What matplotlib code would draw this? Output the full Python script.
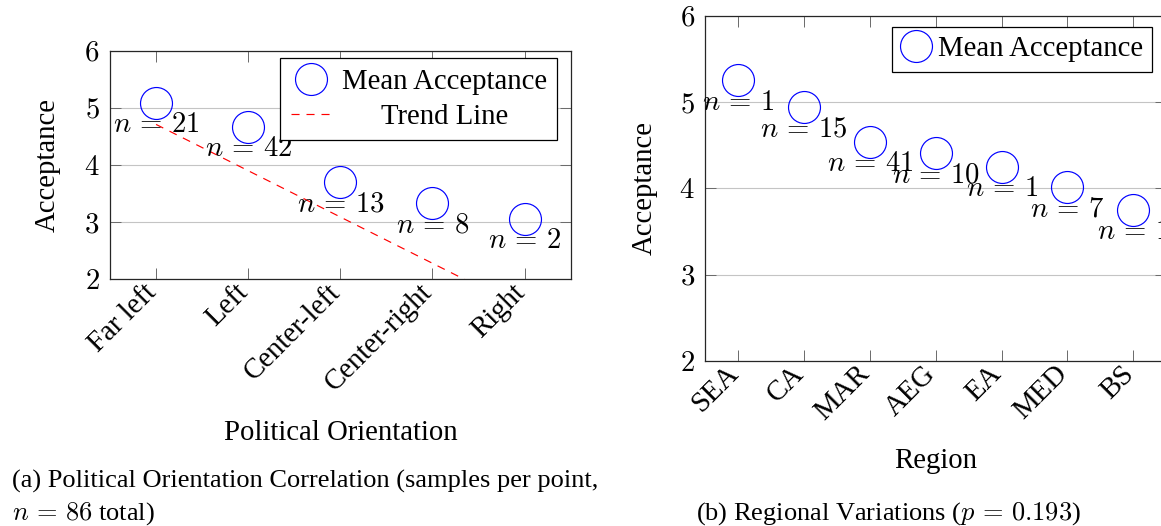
import matplotlib
matplotlib.use("Agg")
import matplotlib.pyplot as plt
from matplotlib.lines import Line2D
from matplotlib.transforms import ScaledTranslation

# ---------------- data ----------------
political_categories = ["Far left", "Left", "Center-left", "Center-right", "Right"]
political_means = [5.08, 4.66, 3.70, 3.33, 3.06]
political_n = [21, 42, 13, 8, 2]
trend_categories = ["Far left", "Right"]
trend_values = [4.71, 1.47]

region_categories = ["SEA", "CA", "MAR", "AEG", "EA", "MED", "BS"]
region_means = [5.25, 4.94, 4.54, 4.41, 4.25, 4.01, 3.75]
region_n = [1, 15, 41, 10, 1, 7, 1]

y_ticks = [2, 3, 4, 5, 6]

# ---------------- style ----------------
plt.rcParams["font.family"] = ["Liberation Serif", "DejaVu Serif"]
plt.rcParams["mathtext.fontset"] = "cm"
plt.rcParams["lines.scale_dashes"] = False
FS = 20.7
FS_CAP = 19.0
W, H = 1161, 526
SPINE = "#262626"
GRID = "#c4c4c4"
TICK = "#6a6a6a"
BLUE = "#0000ff"
RED = "#ff0000"

fig = plt.figure(figsize=(W / 100, H / 100), dpi=100)
ax1 = fig.add_axes([110 / W, 1 - 279.3 / H, 460.7 / W, 228.6 / H])
ax2 = fig.add_axes([705.3 / W, 1 - 361.0 / H, 460.9 / W, 345.3 / H])


def style_axis(ax, cats):
    ax.set_ylim(2, 6)
    ax.set_xlim(-0.5, len(cats) - 0.5)
    ax.set_yticks(y_ticks, labels=[f"${t}$" for t in y_ticks], fontsize=FS)
    ax.set_xticks(range(len(cats)))
    ax.set_xticklabels(cats, fontsize=FS, rotation=45, ha="right", va="top",
                       rotation_mode="anchor")
    ax.tick_params(axis="both", direction="in", length=8.2, width=0.7,
                   color=TICK, top=True, right=True)
    ax.tick_params(axis="y", pad=7.5)
    ax.tick_params(axis="x", pad=3.5)
    for s in ax.spines.values():
        s.set_color(SPINE)
        s.set_linewidth(0.9)
    ax.yaxis.grid(True, color=GRID, linewidth=0.8)
    ax.set_axisbelow(True)


def annotate_n(ax, xs, ys, ns):
    for x, y, n in zip(xs, ys, ns):
        ax.annotate(f"$n \\,=\\, {n}$", (x, y), xytext=(0, -21),
                    textcoords="offset points", ha="center", va="baseline",
                    fontsize=FS, zorder=4)


# ---------------- (a) political orientation ----------------
style_axis(ax1, political_categories)
px = [political_categories.index(c) for c in political_categories]
ax1.plot(px, political_means, linestyle="none", marker="o", markersize=23,
         markerfacecolor="none", markeredgecolor=BLUE, markeredgewidth=0.85,
         zorder=3)
tx = [political_categories.index(c) for c in trend_categories]
ax1.plot(tx, trend_values, color=RED, linewidth=0.85,
         linestyle=(0, (5.8, 5.0)), zorder=2)
annotate_n(ax1, px, political_means, political_n)

h_mean = Line2D([], [], linestyle="none", marker="o", markersize=23,
                markerfacecolor="none", markeredgecolor=BLUE, markeredgewidth=0.85)
h_trend = Line2D([], [], color=RED, linewidth=0.85, linestyle=(0, (5.8, 5.0)))
leg1 = ax1.legend([h_mean, h_trend], ["Mean Acceptance", "Trend Line"],
                  loc="upper right", bbox_to_anchor=(0.9709, 0.9668),
                  borderaxespad=0, fontsize=FS, fancybox=False, framealpha=1,
                  edgecolor="black", borderpad=0.36, handlelength=1.41,
                  handletextpad=0.37, labelspacing=0.31)
leg1.get_frame().set_linewidth(0.9)

ax1.set_ylabel("Acceptance", fontsize=FS, va="center")
ax1.yaxis.set_label_coords((48 - 110) / 460.7, 0.5)
ax1.set_xlabel("Political Orientation", fontsize=FS, va="baseline")
ax1.xaxis.set_label_coords(0.5, (279.3 - 440) / 228.6)

# ---------------- (b) regional variations ----------------
style_axis(ax2, region_categories)
rx = [region_categories.index(c) for c in region_categories]
ax2.plot(rx, region_means, linestyle="none", marker="o", markersize=23,
         markerfacecolor="none", markeredgecolor=BLUE, markeredgewidth=0.85,
         zorder=3, label="Mean Acceptance")
annotate_n(ax2, rx, region_means, region_n)
leg2 = ax2.legend(loc="upper right", bbox_to_anchor=(0.9698, 0.968),
                  borderaxespad=0, fontsize=FS, fancybox=False, framealpha=1,
                  edgecolor="black", borderpad=0.33, handlelength=1.0,
                  handletextpad=0.25)
leg2.get_frame().set_linewidth(0.9)

ax2.set_ylabel("Acceptance", fontsize=FS, va="center")
ax2.yaxis.set_label_coords((645 - 705.3) / 460.9, 0.5)
ax2.set_xlabel("Region", fontsize=FS, va="baseline")
ax2.xaxis.set_label_coords(0.5, (361 - 468) / 345.3)

# ---------------- captions ----------------
fig.text(11.7 / W, 1 - 488 / H,
         "(a) Political Orientation Correlation (samples per point,",
         fontsize=FS_CAP, ha="left", va="baseline")
fig.text(11.7 / W, 1 - 520 / H, "$n \\,=\\, 86$ total)",
         fontsize=FS_CAP, ha="left", va="baseline")
fig.text(888 / W, 1 - 520 / H, "(b) Regional Variations ($p \\,=\\, 0.193$)",
         fontsize=FS_CAP, ha="center", va="baseline")

# ---------------- final adjustments after a first layout pass ----------------
fig.canvas.draw()
renderer = fig.canvas.get_renderer()

# nudge rotated tick labels so their ends sit at the tick, as in the reference
shift = ScaledTranslation(-13 / 100, 5 / 100, fig.dpi_scale_trans)
for ax in (ax1, ax2):
    for lab in ax.get_xticklabels():
        lab.set_transform(lab.get_transform() + shift)

# center the shorter legend label like the reference legend
texts = leg1.get_texts()
w0 = texts[0].get_window_extent(renderer).width
w1 = texts[1].get_window_extent(renderer).width
try:
    for col in leg1._legend_handle_box.get_children():
        for item in col.get_children():
            kids = item.get_children()
            if len(kids) == 2 and texts[1] in kids[1].get_children():
                item.sep = item.sep + (w0 - w1) / 2 * 72 / fig.dpi
except Exception:
    pass

fig.savefig("out.png", dpi=100)
